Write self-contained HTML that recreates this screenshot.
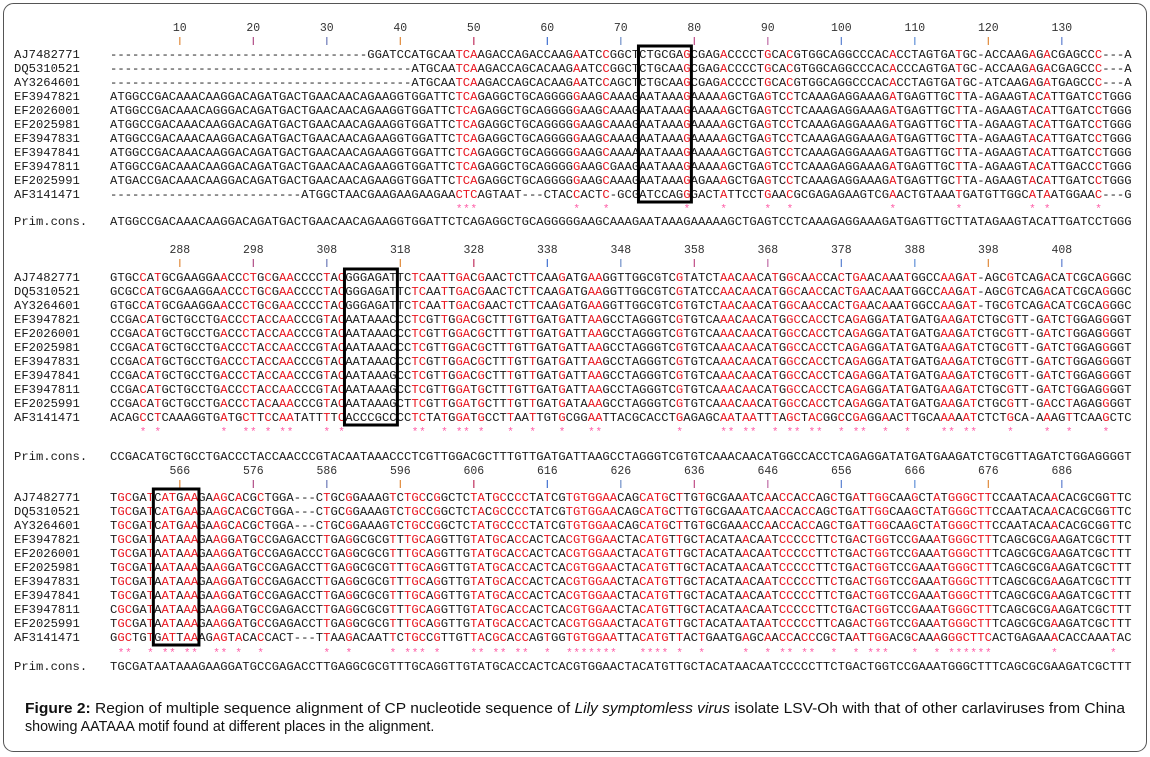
<!DOCTYPE html>
<html><head><meta charset="utf-8">
<style>
html,body{margin:0;padding:0;background:#fff;}
svg{display:block;}
</style></head>
<body>
<svg id="fig" width="1150" height="757" viewBox="0 0 1150 757" xmlns="http://www.w3.org/2000/svg">
<rect x="3.5" y="3.5" width="1143" height="748" rx="10" fill="#fff" stroke="#555" stroke-width="1"/>
<g id="content"></g>
<text x="25" y="713" font-family="Liberation Sans, Arial, sans-serif" font-size="14.3" fill="#111" textLength="1100" lengthAdjust="spacingAndGlyphs"><tspan font-weight="bold">Figure 2:</tspan> Region of multiple sequence alignment of CP nucleotide sequence of <tspan font-style="italic">Lily symptomless virus</tspan> isolate LSV-Oh with that of other carlaviruses from China</text>
<text x="25" y="731" font-family="Liberation Sans, Arial, sans-serif" font-size="14.3" fill="#111">showing AATAAA motif found at different places in the alignment.</text>
</svg>
<script>
const seqNames=["AJ7482771","DQ5310521","AY3264601","EF3947821","EF2026001","EF2025981","EF3947831","EF3947841","EF3947811","EF2025991","AF3141471"];
const block1Rows=[
"GGATCCATGCAATCAAGACCAGACCAAGAATCCGGCTCTGCGAGCGAGACCCCTGCACGTGGCAGGCCCACACCTAGTGATGC-ACCAAGAGACGAGCCC---A",
"ATGCAATCAAGACCAGCACAAGAATCCGGCTCTGCAAGCGAGACCCCTGCACGTGGCAGGCCCACACCCAGTGATGC-ACCAAGAGACGAGCCC---A",
"ATGCAATCAAGACCAGCACAAGAATCCAGCTCTGCAAGCGAGACCCCTGCACGTGGCAGGCCCACACCTAGTGATGC-ATCAAGAGATGAGCCC---A",
"ATGGCCGACAAACAAGGACAGATGACTGAACAACAGAAGGTGGATTCTCAGAGGCTGCAGGGGGAAGCAAAGAATAAAGAAAAAGCTGAGTCCTCAAAGAGGAAAGATGAGTTGCTTA-AGAAGTACATTGATCCTGGG",
"ATGGCCGACAAACAGGGACAGATGACTGAACAACAGAAGGTGGATTCTCAGAGGCTGCAGGGGGAAGCAAAGAATAAAGAAAAAGCTGAGTCCTCAAAGAGGAAAGATGAGTTGCTTA-AGAAGTACATTGATCCTGGG",
"ATGGCCGACAAACAAGGACAGATGACTGAACAACAGAAGGTGGATTCTCAGAGGCTGCAGGGGGAAGCAAAGAATAAAGAAAAAGCTGAGTCCTCAAAGAGGAAAGATGAGTTGCTTA-AGAAGTACATTGATCCTGGG",
"ATGGCCGACAAACAAGGACAGATGACTGAACAACAGAAGGTGGATTCTCAGAGGCTGCAGGGGGAAGCAAAGAATAAAGAAAAAGCTGAGTCCTCAAAGAGGAAAGATGAGTTGCTTA-AGAAGTACATTGATCCTGGG",
"ATGGCCGACAAACAAGGACAGATGACTGAACAACAGAAGGTGGATTCTCAGAGGCTGCAGGGGGAAGCAAAAAATAAAGAAAAAGCTGAGTCCTCAAAGAGGAAAGATGAGTTGCTTA-AGAAGTACATTGATCCTGGG",
"ATGGCCGACAAACAAGGACAGATGACTGAACAACAGAAGGTGGATTCTCAGAGGCTGCAGGGGGAAGCGAAGAATAAAGAAAAAGCTGAGTCCTCAAAGAGGAAAGATGAGTTGCTTA-AGAAGTACATTGACCCTGGG",
"ATGACCGACAAACAAGGACAGATGACTGAACAACAGAAGGTGGATTCTCAGAGGCTGCAGGGGGAAGCAAAGAATAAAGAGAAAGCTGAGTCCTCAAAGAGGAAAGATGAGTTGCTTA-AGAAGTACATTGATCCTGGG",
"ATGGCTAACGAAGAAGAAGAACTCAGTAAT---CTACCACTC-GCGATCCAGGGACTATTCCTGAACGCGAGAGAAGTCGAACTGTAAATGATGTTGGCATAATGGAAC---G"
];
const block1Cons="ATGGCCGACAAACAAGGACAGATGACTGAACAACAGAAGGTGGATTCTCAGAGGCTGCAGGGGGAAGCAAAGAATAAAGAAAAAGCTGAGTCCTCAAAGAGGAAAGATGAGTTGCTTATAGAAGTACATTGATCCTGGG";
const block2Left=[
"GTGCCATGCGAAGGAACCCTGCGAACCCCTACGGGAGATTCTCAATTGACGAACTCTTCAAGAT",
"GCGCCATGCGAAGGAACCCTGCGAACCCCTACGGGAGATTCTCAATTGACGAACTCTTCAAGAT",
"GTGCCATGCGAAGGAACCCTGCGAACCCCTACGGGAGATTCTCAATTGACGAACTCTTCAAGAT",
"CCGACATGCTGCCTGACCCTACCAACCCGTACAATAAACCCTCGTTGGACGCTTTGTTGATGAT",
"CCGACATGCTGCCTGACCCTACCAACCCGTACAATAAACCCTCGTTGGACGCTTTGTTGATGAT",
"CCGACATGCTGCCTGACCCTACCAACCCGTACAATAAACCCTCGTTGGACGCTTTGTTGATGAT",
"CCGACATGCTGCCTGACCCTACCAACCCGTACAATAAACCCTCGTTGGACGCTTTGTTGATGAT",
"CCGACATGCTGCCTGACCCTACCAACCCGTACAATAAAGCCTCGTTGGACGCTTTGTTGATGAT",
"CCGACATGCTGCCTGACCCTACCAACCCGTACAATAAAGCCTCGTTGGATGCTTTGTTGATGAT",
"CCGACATGCTGCCTGACCCTACAAACCCGTACAATAAAGCTTCGTTGGATGCTTTGTTGATGAT",
"ACAGCCTCAAAGGTGATGCTTCCAATATTTTCACCCGCCCCTCTATGGATGCCTTAATTGTGCG"
];
const block2Right=[
"ATGAAGGTTGGCGTCGTATCTAACAACATGGCAACCACTGAACAAATGGCCAAGAT-AGCGTCAGACATCGCAGGGC",
"ATGAAGGTTGGCGTCGTATCCAACAACATGGCAACCACTGAACAAATGGCCAAGAT-AGCGTCAGACATCGCAGGGC",
"ATGAAGGTTGGCGTCGTGTCTAACAACATGGCAACCACTGAACAAATGGCCAAGAT-TGCGTCAGACATCGCAGGGC",
"ATTAAGCCTAGGGTCGTGTCAAACAACATGGCCACCTCAGAGGATATGATGAAGATCTGCGTT-GATCTGGAGGGGT",
"ATTAAGCCTAGGGTCGTGTCAAACAACATGGCCACCTCAGAGGATATGATGAAGATCTGCGTT-GATCTGGAGGGGT",
"ATTAAGCCTAGGGTCGTGTCAAACAACATGGCCACCTCAGAGGATATGATGAAGATCTGCGTT-GATCTGGAGGGGT",
"ATTAAGCCTAGGGTCGTGTCAAACAACATGGCCACCTCAGAGGATATGATGAAGATCTGCGTT-GATCTGGAGGGGT",
"ATTAAGCCTAGGGTCGTGTCAAACAACATGGCCACCTCAGAGGATATGATGAAGATCTGCGTT-GATCTGGAGGGGT",
"ATTAAGCCTAGGGTCGTGTCAAACAACATGGCCACCTCAGAGGATATGATGAAGATCTGCGTT-GATCTGGAGGGGT",
"ATAAAGCCTAGGGTCGTGTCAAACAACATGGCCACCTCAGAGGATATGATGAAGATCTGCGTT-GACCTAGAGGGGT",
"CGGAATTACGCACCTGAGAGCAATAATTTAGCTACGGCCGAGGAACTTGCAAAAATCTCTGCA-AAAGTTCAAGCTC"
];
const block2Cons="CCGACATGCTGCCTGACCCTACCAACCCGTACAATAAACCCTCGTTGGACGCTTTGTTGATGATTAAGCCTAGGGTCGTGTCAAACAACATGGCCACCTCAGAGGATATGATGAAGATCTGCGTTAGATCTGGAGGGGT";
const block3Left=[
"TGCGATCATGAAGAAGCACGCTGGA---CTGCGGAAAGTCTGCCGGCTCTATGCCCCTATCGTG",
"TGCGATCATGAAGAAGCACGCTGGA---CTGCGGAAAGTCTGCCGGCTCTACGCCCCTATCGTG",
"TGCGATCATGAAGAAGCACGCTGGA---CTGCGGAAAGTCTGCCGGCTCTATGCCCCTATCGTG",
"TGCGATAATAAAGAAGGATGCCGAGACCTTGAGGCGCGTTTGCAGGTTGTATGCACCACTCACG",
"TGCGATAATAAAGAAGGATGCCGAGACCCTGAGGCGCGTTTGCAGGTTGTATGCACCACTCACG",
"TGCGATAATAAAGAAGGATGCCGAGACCTTGAGGCGCGTTTGCAGGTTGTATGCACCACTCACG",
"TGCGATAATAAAGAAGGATGCCGAGACCTTGAGGCGCGTTTGCAGGTTGTATGCACCACTCACG",
"TGCGATAATAAAGAAGGATGCCGAGACCTTGAGGCGCGTTTGCAGGTTGTATGCACCACTCACG",
"CGCGATAATAAAGAAGGATGCCGAGACCTTGAGGCGCGTTTGCAGGTTGTATGCACCACTCACG",
"TGCGATAATAAAGAAGGATGCCGAGACCTTGAGGCGCGTTTGCAGGTTGTATGCACCACTCACG",
"GGCTGTGATTAAAGAGTACACCACT---TTAAGACAATTCTGCCGTTGTTACGCACCAGTGGTG"
];
const block3Right=[
"TGTGGAACAGCATGCTTGTGCGAAATCAACCACCAGCTGATTGGCAAGCTATGGGCTTCCAATACAACACGCGGTTC",
"TGTGGAACAGCATGCTTGTGCGAAATCAACCACCAGCTGATTGGCAAGCTATGGGCTTCCAATACAACACGCGGTTC",
"TGTGGAACAGCATGCTTGTGCGAAACCAACCACCAGCTGATTGGCAAGCTATGGGCTTCCAATACAACACGCGGTTC",
"CGTGGAACTACATGTTGCTACATAACAATCCCCCTTCTGACTGGTCCGAAATGGGCTTTCAGCGCGAAGATCGCTTT",
"CGTGGAACTACATGTTGCTACATAACAATCCCCCTTCTGACTGGTCCGAAATGGGCTTTCAGCGCGAAGATCGCTTT",
"CGTGGAACTACATGTTGCTACATAACAATCCCCCTTCTGACTGGTCCGAAATGGGCTTTCAGCGCGAAGATCGCTTT",
"CGTGGAACTACATGTTGCTACATAACAATCCCCCTTCTGACTGGTCCGAAATGGGCTTTCAGCGCGAAGATCGCTTT",
"CGTGGAACTACATGTTGCTACATAACAATCCCCCTTCTGACTGGTCCGAAATGGGCTTTCAGCGCGAAGATCGCTTT",
"CGTGGAACTACATGTTGCTACATAACAATCCCCCTTCTGACTGGTCCGAAATGGGCTTTCAGCGCGAAGATCGCTTT",
"CGTGGAACTACATGTTGCTACATAATAATCCCCCTTCAGACTGGTCCGAAATGGGCTTTCAGCGCGAAGATCGCTTT",
"TGTGGAATTACATGTTACTGAATGAGCAACCACCCGCTAATTGGACGCAAAGGGCTTCACTGAGAAACACCAAATAC"
];
const block3Cons="TGCGATAATAAAGAAGGATGCCGAGACCTTGAGGCGCGTTTGCAGGTTGTATGCACCACTCACGTGGAACTACATGTTGCTACATAACAATCCCCCTTCTGACTGGTCCGAAATGGGCTTTCAGCGCGAAGATCGCTTT";
const block1Stars=[47,48,49,63,67,78,83,89,92,106,115,125,127,134];
const block2Stars=[4,6,15,18,19,21,23,24,29,31,41,42,45,47,48,50,54,57,61,65,66,77,83,84,86,87,90,92,93,95,96,99,101,102,105,108,113,114,116,117,122,127,130,135];
const block3Stars=[1,2,5,7,8,10,11,14,15,17,20,29,32,38,40,41,42,44,49,50,52,53,55,56,59,62,63,64,65,66,67,68,72,73,74,75,77,80,86,89,91,92,94,95,98,101,103,104,105,109,112,114,115,116,117,118,119,128,136];
const block1Start=1, block2Start=279, block3Start=557;
const block1Box=[72,78], block2Box=[32,38], block3Box=[6,11];

const NCOL=139, X0=110, PITCH=7.35;
const NS="http://www.w3.org/2000/svg";
const root=document.getElementById('content');
const tickColors=['#e0893a','#b04c86','#6a78b8','#e0893a','#c0305e','#3f6fd0','#6f8fc8','#c04c86','#c06aa6','#5a80d0','#5f8fd8','#e0893a','#5f80d0'];
function colX(c){return X0+PITCH*(c+0.5);}
function mk(tag,attrs){const e=document.createElementNS(NS,tag);for(const k in attrs)e.setAttribute(k,attrs[k]);return e;}

function drawBlock(rows,cons,stars,start,box,geo,idx){
  const g=mk('g',{});
  
  
  root.appendChild(g);
  for(let k=0;k<13;k++){
    const c=9+10*k; if(c>=NCOL)break;
    const x=colX(c);
    const t=mk('text',{x:x,y:geo.label+4,'text-anchor':'middle','font-family':'Liberation Mono, monospace','font-size':'11.5',fill:'#333'});
    
    
    t.textContent=String(start+c);
    g.appendChild(t);
    const l=mk('line',{x1:x,x2:x,y1:geo.tick,y2:geo.tick+8,stroke:tickColors[k%tickColors.length],'stroke-width':'1.2'});
    
    
    g.appendChild(l);
  }
  const starSet=new Set(stars);
  function seqText(s,y,name,colorize){
    const t=mk('text',{x:X0,y:y,'font-family':'Liberation Mono, monospace','font-size':'12.2',fill:'#1a1a1a',textLength:(NCOL*PITCH).toFixed(1),lengthAdjust:'spacing'});
    
    
    let buf='',red=false;
    function flush(){ if(!buf)return; const sp=mk('tspan',{}); if(red)sp.setAttribute('fill','#e8141e'); sp.textContent=buf; t.appendChild(sp); buf='';}
    for(let i=0;i<s.length;i++){
      const r=colorize&&starSet.has(i);
      if(r!==red){flush();red=r;}
      buf+=s[i];
    }
    flush();
    g.appendChild(t);
  }
  rows.forEach((s,i)=>{
    const y=geo.row0+geo.step*i+4;
    const lab=mk('text',{x:14,y:y,'font-family':'Liberation Mono, monospace','font-size':'12.2',fill:'#1a1a1a'});
    
    
    lab.textContent=seqNames[i];
    g.appendChild(lab);
    seqText(s.padStart(NCOL,'-').slice(0,NCOL),y,'sequence-row',true);
  });
  stars.forEach(c=>{
    const st=mk('text',{x:colX(c),y:geo.stars+6,'text-anchor':'middle','font-family':'Liberation Mono, monospace','font-size':'11',fill:'#ff5aa5'});
    
    
    st.textContent='*';
    g.appendChild(st);
  });
  const cl=mk('text',{x:14,y:geo.cons+4,'font-family':'Liberation Mono, monospace','font-size':'12.2',fill:'#1a1a1a'});
  
  
  cl.textContent='Prim.cons.';
  g.appendChild(cl);
  seqText(cons,geo.cons+4,'consensus-sequence',false);
  const bx=X0+PITCH*(box[0]-0.1), bw=PITCH*(box[1]-box[0]+1.2);
  const r=mk('rect',{x:bx,y:geo.row0-8,width:bw,height:geo.step*10+16,fill:'none',stroke:'#000','stroke-width':'3'});
  
  
  g.appendChild(r);
}
const b2=block2Left.map((s,i)=>s+block2Right[i].slice(2));
const b3=block3Left.map((s,i)=>s+block3Right[i].slice(2));
drawBlock(block1Rows,block1Cons,block1Stars,block1Start,block1Box,{label:27,tick:37,row0:54,step:14.0,stars:206,cons:221},1);
drawBlock(b2,block2Cons,block2Stars,block2Start,block2Box,{label:249,tick:259,row0:277,step:14.0,stars:429,cons:456},2);
drawBlock(b3,block3Cons,block3Stars,block3Start,block3Box,{label:470,tick:480,row0:497,step:14.0,stars:650,cons:666},3);
</script>
</body></html>
